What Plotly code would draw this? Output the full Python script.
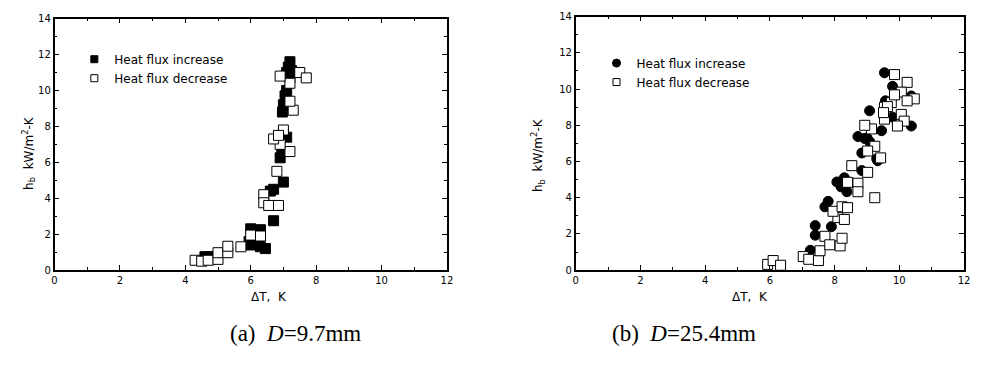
import plotly.graph_objects as go

# (a) D=9.7mm
a_inc_x = [4.6, 4.7, 4.8, 5.95, 6.0, 6.3, 6.0, 6.2, 6.3, 6.45, 6.7, 6.6, 6.7, 7.0, 6.9, 6.95, 7.1, 7.0, 6.97, 7.0, 7.05, 7.1, 7.15, 7.2, 7.25, 7.1, 7.2]
a_inc_y = [0.75, 0.6, 0.75, 1.6, 2.3, 2.25, 1.4, 1.5, 1.3, 1.2, 2.75, 4.4, 4.5, 4.9, 6.25, 6.6, 7.4, 7.6, 8.8, 9.2, 9.7, 10.0, 11.3, 11.6, 11.1, 11.0, 10.7]
a_dec_x = [4.3, 4.5, 4.7, 5.0, 5.0, 5.3, 5.3, 5.7, 6.0, 6.3, 6.4, 6.4, 6.55, 6.85, 6.8, 7.2, 6.9, 6.7, 7.0, 6.85, 7.3, 7.2, 7.2, 6.9, 7.5, 7.7]
a_dec_y = [0.55, 0.5, 0.55, 0.6, 0.97, 0.97, 1.33, 1.3, 1.95, 1.9, 4.2, 3.75, 3.6, 3.6, 5.5, 6.6, 7.0, 7.3, 7.8, 7.5, 8.9, 9.4, 10.4, 10.8, 11.0, 10.7]

# (b) D=25.4mm
b_inc_x = [7.25, 7.4, 7.4, 7.9, 7.8, 7.7, 8.07, 8.3, 8.38, 8.2, 8.84, 8.84, 8.72, 9.0, 9.3, 8.93, 9.08, 9.08, 9.45, 9.63, 9.57, 9.54, 9.79, 10.37, 9.79, 10.37, 9.33]
b_inc_y = [1.1, 2.46, 1.93, 2.4, 3.8, 3.5, 4.87, 5.1, 4.33, 4.6, 5.5, 6.47, 7.38, 7.3, 6.15, 7.27, 8.8, 7.1, 7.7, 9.25, 9.35, 10.9, 10.15, 9.62, 8.45, 7.96, 6.04]
b_dec_x = [5.93, 6.1, 6.33, 7.03, 7.2, 7.5, 7.55, 7.7, 7.85, 8.17, 8.23, 8.1, 8.3, 7.95, 8.23, 8.4, 8.4, 8.72, 8.72, 9.24, 8.53, 9.02, 9.24, 9.42, 9.02, 9.14, 8.93,
           9.54, 9.54, 9.75, 9.85, 10.24, 10.06, 9.85, 10.46, 10.24, 9.63, 10.06, 10.15, 9.94, 9.51]
b_dec_y = [0.32, 0.53, 0.27, 0.75, 0.6, 0.53, 1.07, 1.87, 1.4, 1.34, 1.76, 2.9, 2.8, 3.25, 3.5, 3.45, 4.85, 4.8, 4.33, 4.0, 5.77, 5.4, 6.84, 6.2, 6.58, 7.8, 8.0,
           8.34, 9.0, 9.25, 10.8, 10.37, 9.83, 9.68, 9.46, 9.35, 9.03, 8.6, 8.23, 7.96, 8.7]

x_ticks = [0, 2, 4, 6, 8, 10, 12]
y_ticks = [0, 2, 4, 6, 8, 10, 12, 14]
legend_names = ["Heat flux increase", "Heat flux decrease"]

W, H = 981, 370
FONT = "DejaVu Sans, Arial, sans-serif"
SERIF = "Liberation Serif, Times New Roman, serif"

fig = go.Figure()

def add(x, y, xa, ya, sym, fill):
    fig.add_trace(go.Scatter(
        x=x, y=y, mode="markers", xaxis=xa, yaxis=ya, showlegend=False, hoverinfo="x+y",
        marker=dict(symbol=sym, size=10, color=fill, line=dict(color="black", width=1)),
    ))

def add_legend(name, xa, ya, leg, sym, fill, size):
    fig.add_trace(go.Scatter(
        x=[None], y=[None], mode="markers", name=name, xaxis=xa, yaxis=ya, legend=leg,
        marker=dict(symbol=sym, size=size, color=fill, line=dict(color="black", width=1)),
    ))

add(a_inc_x, a_inc_y, "x", "y", "square", "black")
add(a_dec_x, a_dec_y, "x", "y", "square", "white")
add(b_inc_x, b_inc_y, "x2", "y2", "circle", "black")
add(b_dec_x, b_dec_y, "x2", "y2", "square", "white")

add_legend(legend_names[0], "x", "y", "legend", "square", "black", 7)
add_legend(legend_names[1], "x", "y", "legend", "square", "white", 7)
add_legend(legend_names[0], "x2", "y2", "legend2", "circle", "black", 8)
add_legend(legend_names[1], "x2", "y2", "legend2", "square", "white", 7)

def px_x(p):
    return p / W

def px_y(p):
    return 1 - p / H

axis_common = dict(
    showline=True, linecolor="black", linewidth=1.5, mirror="ticks",
    ticks="inside", ticklen=5, tickwidth=1, tickcolor="black",
    showgrid=False, zeroline=False,
    tickfont=dict(family=FONT, size=10, color="black"),
    minor=dict(ticks="inside", ticklen=3, tickcolor="black", dtick=1, showgrid=False),
)

legend_common = dict(xanchor="left", yanchor="top", bgcolor="rgba(0,0,0,0)",
                     font=dict(family=FONT, size=12, color="black"),
                     itemsizing="trace", tracegroupgap=0)

fig.update_layout(
    width=W, height=H, margin=dict(l=0, r=0, t=0, b=0),
    paper_bgcolor="white", plot_bgcolor="white",
    font=dict(family=FONT, color="black"),
    xaxis=dict(domain=[px_x(52), px_x(448)], range=[0, 12], tickvals=x_ticks, anchor="y", **axis_common),
    yaxis=dict(domain=[px_y(273), px_y(13)], range=[0, 14], tickvals=y_ticks, anchor="x", **axis_common),
    xaxis2=dict(domain=[px_x(578), px_x(970)], range=[0, 12], tickvals=x_ticks, anchor="y2", **axis_common),
    yaxis2=dict(domain=[px_y(273), px_y(11)], range=[0, 14], tickvals=y_ticks, anchor="x2", **axis_common),
    legend=dict(x=px_x(72), y=px_y(40), **legend_common),
    legend2=dict(x=px_x(599), y=px_y(44), **legend_common),
)

ytitle = "h<sub>b</sub>  kW/m<sup>2</sup>-K"
xtitle = "ΔT,\u00a0\u00a0K"
ann = [
    dict(x=px_x(248), y=px_y(310), text=xtitle),
    dict(x=px_x(774), y=px_y(310), text=xtitle),
    dict(x=px_x(15), y=px_y(152), text=ytitle, textangle=-90),
    dict(x=px_x(540), y=px_y(154), text=ytitle, textangle=-90),
]
for a in ann:
    fig.add_annotation(xref="paper", yref="paper", showarrow=False,
                       font=dict(family=FONT, size=12, color="black"), **a)

for xc, txt in [(227, "(a)\u00a0 <i>D</i>=9.7mm"), (762, "(b)\u00a0 <i>D</i>=25.4mm")]:
    fig.add_annotation(xref="paper", yref="paper", x=px_x(xc), y=px_y(353), showarrow=False,
                       text=txt, font=dict(family=SERIF, size=23, color="black"))

fig.write_html("out.html", config={"displayModeBar": False},
               post_script="document.body.style.margin='0px';")
